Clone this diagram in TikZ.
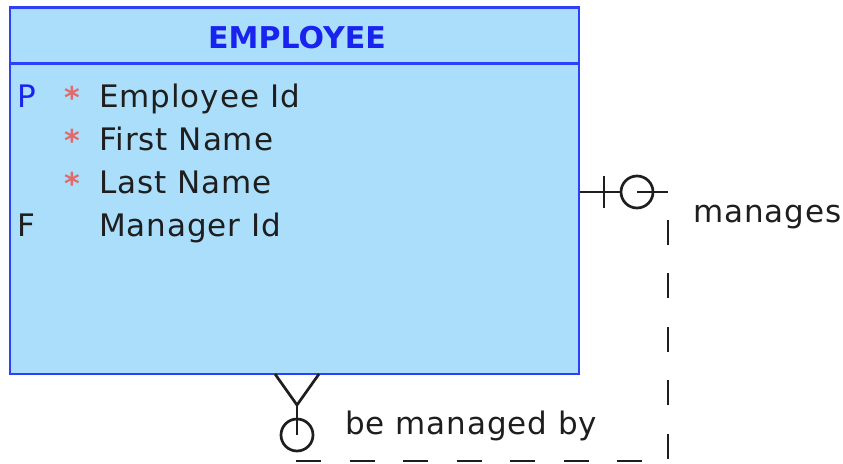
\documentclass[tikz,border=0pt]{standalone}
\usepackage{fontspec}
\setmainfont{DejaVu Sans}
\newfontfamily\colfont[LetterSpace=3]{DejaVu Sans}
\usetikzlibrary{calc}

\definecolor{entfill}{RGB}{170,222,250}
\definecolor{entline}{RGB}{45,65,250}
\definecolor{keyblue}{RGB}{25,35,240}
\definecolor{mandred}{RGB}{228,105,105}
\definecolor{ink}{RGB}{30,30,30}

\tikzset{
  entity/.style={draw=entline, line width=2.7pt, fill=entfill, rectangle,
                 minimum width=569pt, minimum height=366.5pt, inner sep=0pt},
  colname/.style={anchor=base west, inner sep=0pt, text=ink,
                  font=\fontsize{31}{31}\colfont},
  keyflag/.style={anchor=base west, inner sep=0pt,
                  font=\fontsize{31}{31}\selectfont},
  mandatory/.style={anchor=base west, inner sep=0pt, text=mandred,
                    font=\fontsize{30}{30}\selectfont\bfseries},
  title/.style={anchor=base, inner sep=0pt, text=keyblue,
                font=\fontsize{30}{30}\selectfont\bfseries},
  rellabel/.style={anchor=base west, inner sep=0pt, text=ink,
                   font=\fontsize{31}{31}\colfont},
  conn/.style={draw=ink, line width=2.7pt},
  optcircle/.style={circle, draw=ink, line width=2.7pt, minimum size=32pt,
                    inner sep=0pt, outer sep=0pt},
  reldash/.style={conn, dash pattern=on 25pt off 28.5pt},
}

\begin{document}
\begin{tikzpicture}[x=1pt, y=-1pt]
\useasboundingbox (0,0) rectangle (843,463);

% entity box with its header
\node[entity] (emp) at (294.5,190.75) {};
\draw[draw=entline, line width=2.7pt] (emp.west |- 0,63.5) coordinate (hl) -- (emp.east |- 0,63.5) coordinate (hr);
\node[title] (ttl) at (297,48) {EMPLOYEE};

% columns
\node[keyflag, text=keyblue] (kp) at (17,107) {P};
\node[mandatory] (s1) at (64,108) {*};
\node[colname] (c_id) at (99,107) {Employee Id};
\node[mandatory] (s2) at (64,151) {*};
\node[colname] (c_fn) at (99,150) {First Name};
\node[mandatory] (s3) at (64,194) {*};
\node[colname] (c_ln) at (99,193) {Last Name};
\node[keyflag, text=ink] (kf) at (17,236.5) {F};
\node[colname] (c_mg) at (99,236.5) {Manager Id};

% self relationship: "manages" end (one, optional)
\node[optcircle] (oc1) at (637,192) {};
\coordinate (bar1t) at (604,176);
\coordinate (bar1b) at (604,208);
\coordinate (tr) at (668,192);
\draw[conn] (oc1 -| emp.east) -- (oc1.west);
\draw[conn] (bar1t) -- (bar1b);
\draw[conn] (oc1.center) -- (tr);

% "be managed by" end (many, optional)
\node[optcircle] (oc2) at (297,435) {};
\coordinate (leg1) at (275,374);
\coordinate (leg2) at (319,374);
\coordinate (apex) at (297,405);
\draw[conn] (leg1) -- (apex) -- (leg2);
\draw[conn] (apex) -- (oc2.center);

% dashed relationship line
\coordinate (bl) at (297,461);
\coordinate (br) at (668,461);
\draw[reldash, dash phase=44.5pt] (oc2.south) -- (bl) -- (br) -- (tr);

% relationship names
\node[rellabel] (lmg) at (693,222) {manages};
\node[rellabel] (lmb) at (345,434) {be managed by};
\end{tikzpicture}
\end{document}
